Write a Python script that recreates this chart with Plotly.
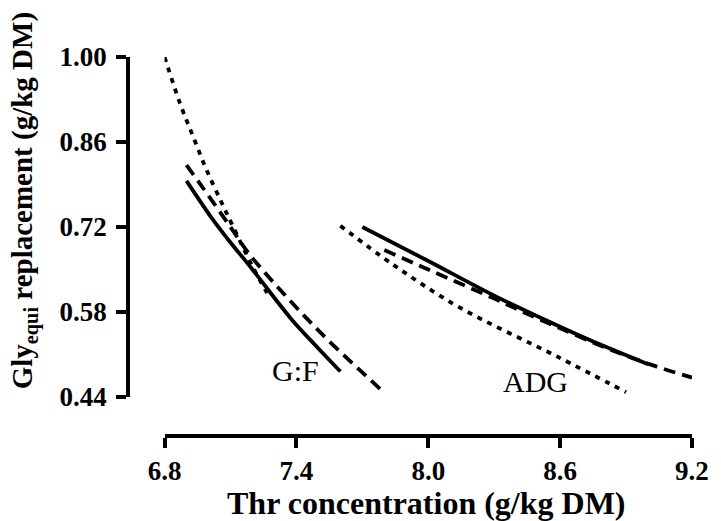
import plotly.graph_objects as go

# ---- data ----
gf_dot_x = [6.80, 6.87, 6.93, 6.99, 7.06, 7.11, 7.20, 7.28]
gf_dot_y = [1.000, 0.924, 0.869, 0.815, 0.760, 0.722, 0.655, 0.603]

gf_dash_x = [6.90, 6.96, 7.10, 7.18, 7.30, 7.44, 7.56, 7.68, 7.80]
gf_dash_y = [0.822, 0.792, 0.720, 0.678, 0.627, 0.572, 0.528, 0.487, 0.447]

gf_solid_x = [6.90, 7.02, 7.09, 7.20, 7.32, 7.38, 7.50, 7.60]
gf_solid_y = [0.796, 0.732, 0.699, 0.650, 0.594, 0.567, 0.520, 0.482]

adg_dot_x = [7.60, 7.84, 8.14, 8.59, 8.90]
adg_dot_y = [0.722, 0.658, 0.588, 0.506, 0.448]

adg_dash_x = [7.80, 8.00, 8.30, 8.50, 8.85, 9.04, 9.20]
adg_dash_y = [0.682, 0.650, 0.602, 0.569, 0.515, 0.490, 0.472]

adg_solid_x = [7.70, 8.00, 8.30, 8.58, 8.74, 9.00]
adg_solid_y = [0.720, 0.664, 0.607, 0.559, 0.533, 0.494]

x_ticks = [6.8, 7.4, 8.0, 8.6, 9.2]
x_tick_labels = ["6.8", "7.4", "8.0", "8.6", "9.2"]
y_ticks = [0.44, 0.58, 0.72, 0.86, 1.00]
y_tick_labels = ["0.44", "0.58", "0.72", "0.86", "1.00"]

curve_labels = ["G:F", "ADG"]
curve_label_x = [7.396, 8.49]
curve_label_y = [0.484, 0.465]

x_title = "Thr concentration (g/kg DM)"
y_title = "Gly<sub>equi</sub> replacement (g/kg DM)"

# ---- styles ----
DOT = "5px,6px"
DASH = "12px,7px"
LW = 3.8
FONT = "Liberation Serif"

fig = go.Figure()
series = [
    (gf_dot_x, gf_dot_y, DOT),
    (gf_dash_x, gf_dash_y, DASH),
    (gf_solid_x, gf_solid_y, "solid"),
    (adg_dot_x, adg_dot_y, DOT),
    (adg_dash_x, adg_dash_y, DASH),
    (adg_solid_x, adg_solid_y, "solid"),
]
for xs, ys, dash in series:
    fig.add_trace(go.Scatter(
        x=xs, y=ys, mode="lines", line_shape="spline",
        line=dict(color="black", width=LW, dash=dash),
        showlegend=False, hoverinfo="skip",
    ))

# page offset (body margin of the html page)
OFF = 8
W, H = 721 - OFF, 521 - OFF
L, R, T, B = 128 - OFF, 22, 57 - OFF, 85
pw, ph = W - L - R, H - T - B


def px_x(p):  # page pixel -> paper x
    return (p - OFF - L) / pw


def px_y(p):  # page pixel -> paper y
    return (T + ph - (p - OFF)) / ph


fig.update_layout(
    width=W, height=H,
    margin=dict(l=L, r=R, t=T, b=B),
    plot_bgcolor="white", paper_bgcolor="white",
    xaxis=dict(
        range=[6.8, 9.2], domain=[px_x(165), 1], anchor="free", position=0,
        tickvals=x_ticks, ticktext=["<b>%s</b>" % t for t in x_tick_labels],
        showgrid=False, zeroline=False,
        showline=True, linecolor="black", linewidth=3.5,
        ticks="outside", ticklen=10, tickwidth=3.5, tickcolor="black",
        tickfont=dict(family=FONT, size=27, color="black"),
    ),
    yaxis=dict(
        range=[0.44, 1.00], domain=[px_y(397), 1], anchor="free", position=0,
        tickvals=y_ticks, ticktext=["<b>%s</b>" % t for t in y_tick_labels],
        showgrid=False, zeroline=False,
        showline=True, linecolor="black", linewidth=3.5,
        ticks="outside", ticklen=10, tickwidth=3.5, tickcolor="black",
        ticklabelstandoff=4,
        tickfont=dict(family=FONT, size=27, color="black"),
    ),
)

for txt, lx, ly in zip(curve_labels, curve_label_x, curve_label_y):
    fig.add_annotation(x=lx, y=ly, xref="x", yref="y", text=txt, showarrow=False,
                       xanchor="center", yanchor="middle",
                       font=dict(family=FONT, size=30, color="black"))

fig.add_annotation(
    text="<b>%s</b>" % x_title, xref="paper", yref="paper",
    x=px_x(430), y=px_y(503), showarrow=False,
    xanchor="center", yanchor="middle", borderpad=0,
    font=dict(family=FONT, size=32, color="black"),
)
fig.add_annotation(
    text="<b>%s</b>" % y_title, xref="paper", yref="paper",
    x=px_x(23), y=px_y(201), showarrow=False, textangle=-90,
    xanchor="center", yanchor="middle", borderpad=0,
    font=dict(family=FONT, size=29, color="black"),
)

fig.write_html("out.html")
